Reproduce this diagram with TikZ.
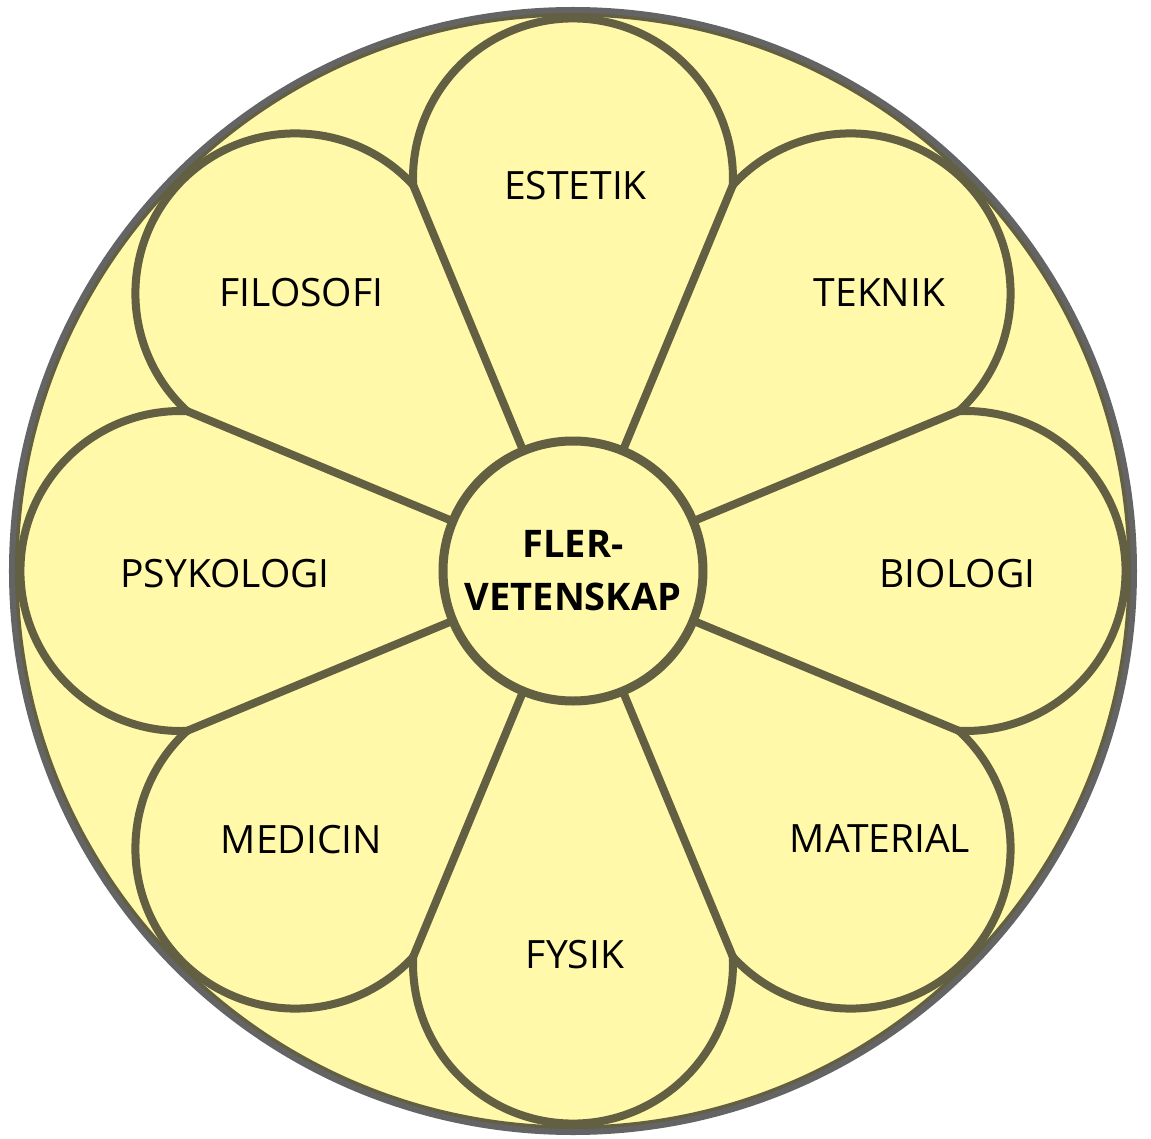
\documentclass[tikz,border=0pt]{standalone}
\usepackage{fontspec}
\setmainfont{Open Sans}
\definecolor{petalfill}{HTML}{FFF9A9}
\definecolor{olive}{HTML}{625F42}
\definecolor{rimgray}{HTML}{646464}
\begin{document}
\begin{tikzpicture}[x=1pt,y=1pt,
  petal/.style={draw=olive, line width=8pt, line cap=round, line join=round},
  lbl/.style={anchor=base, inner sep=0pt, font=\fontsize{39}{46}\selectfont},
 ]
\useasboundingbox (-573,-567) rectangle (578,571);
% outer disc
\fill[petalfill] (0,0) circle[radius=561];
\draw[olive, line width=5pt] (0,0) circle[radius=557];
\draw[rimgray, line width=6pt] (0,0) circle[radius=561];
% petal arcs
\foreach \t in {90,45,...,-225} {
  \draw[petal] ({\t-22.5}:417.7) arc[start angle={\t-92.4}, end angle={\t+92.4}, radius=160];
}
% joints between petals
\foreach \i in {1,...,8} \coordinate (j\i) at ({112.5-45*(\i-1)}:417.7);
% centre
\node[circle, draw=olive, line width=9pt, fill=petalfill, minimum size=260pt, inner sep=0pt,
      align=center, font=\bfseries\fontsize{38}{53}\selectfont] (c) at (0,0) {FLER-\\VETENSKAP};
\foreach \i in {1,...,8} \draw[petal] (j\i) -- (c);
% labels
\node[lbl] (estetik)  at (2.5,371)    {ESTETIK};
\node[lbl] (filosofi) at (-271.5,264) {FILOSOFI};
\node[lbl] (teknik)   at (306.5,264)  {TEKNIK};
\node[lbl] (psykologi) at (-348,-16)  {PSYKOLOGI};
\node[lbl] (biologi)  at (384.5,-16)  {BIOLOGI};
\node[lbl] (medicin)  at (-271.5,-282) {MEDICIN};
\node[lbl] (material) at (307,-281)   {MATERIAL};
\node[lbl] (fysik)    at (2,-397)     {FYSIK};
\end{tikzpicture}
\end{document}
